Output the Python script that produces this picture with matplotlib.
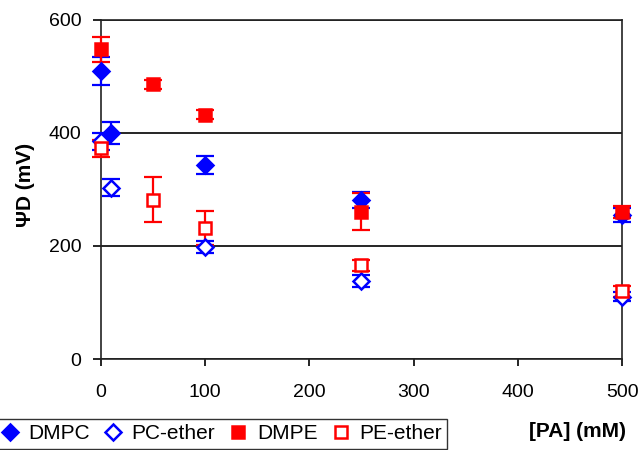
import numpy as np
import matplotlib
matplotlib.use('Agg')
import matplotlib.pyplot as plt

plt.rcParams['font.family'] = ['Liberation Sans', 'DejaVu Sans']

# values
dmpc_x = [0, 10, 100, 250, 500]
dmpc_y = [510, 400, 343, 282, 255]
dmpc_err = [25, 20, 16, 14, 12]

pce_x = [0, 10, 100, 250, 500]
pce_y = [385, 303, 198, 138, 110]
pce_err = [15, 15, 11, 11, 8]

dmpe_x = [0, 50, 100, 250, 500]
dmpe_y = [548, 486, 432, 261, 260]
dmpe_err = [22, 8, 8, 33, 10]

pee_x = [0, 50, 100, 250, 500]
pee_y = [373, 282, 232, 166, 120]
pee_err = [15, 40, 30, 10, 10]

BLUE = '#0000ff'
RED = '#ff0000'

fig = plt.figure(figsize=(6.42, 4.5), dpi=100)
ax = fig.add_axes([0.157, 0.202, 0.812, 0.754])

series = [
    (dmpc_x, dmpc_y, dmpc_err, 'D', BLUE, BLUE, 'DMPC'),
    (pce_x, pce_y, pce_err, 'D', BLUE, 'white', 'PC-ether'),
    (dmpe_x, dmpe_y, dmpe_err, 's', RED, RED, 'DMPE'),
    (pee_x, pee_y, pee_err, 's', RED, 'white', 'PE-ether'),
]
handles = []
for x, y, e, m, c, fc, lab in series:
    ax.errorbar(x, y, yerr=e, fmt='none', ecolor=c, elinewidth=1.6,
                capsize=6.5, capthick=1.6, clip_on=False, zorder=3)
    h, = ax.plot(x, y, linestyle='none', marker=m, markersize=8.5 if m == 'D' else 9,
                 markerfacecolor=fc, markeredgecolor=c, markeredgewidth=1.8,
                 clip_on=False, zorder=4, label=lab)
    handles.append(h)

ax.set_xlim(0, 500)
ax.set_ylim(0, 600)
ax.set_xticks([0, 100, 200, 300, 400, 500])
ax.set_yticks([0, 200, 400, 600])
ax.yaxis.grid(True, color='black', linewidth=1.2)
ax.set_axisbelow(True)
for s in ax.spines.values():
    s.set_linewidth(1.2)
    s.set_color('#222222')
ax.tick_params(axis='x', direction='out', length=5, width=1.2, pad=13, labelsize=14)
ax.tick_params(axis='y', direction='out', length=6, width=1.2, pad=8, labelsize=14)

fig.text(0.039, 0.59, '\u03a8D (mV)', rotation=90, ha='center', va='center',
         fontsize=15, fontweight='bold')
fig.text(0.899, 0.042, '[PA] (mM)', ha='center', va='center',
         fontsize=15, fontweight='bold')

leg = fig.legend(handles=handles, loc='lower left', bbox_to_anchor=(-0.006, 0.003),
                 ncol=4, frameon=True, fancybox=False, fontsize=15,
                 handlelength=0.8, handletextpad=0.5, columnspacing=0.7,
                 borderpad=0.25, borderaxespad=0)
leg.get_frame().set_edgecolor('black')
leg.get_frame().set_linewidth(1.0)
for h in leg.legend_handles:
    h.set_markersize(8)

fig.savefig('out.png', dpi=100)
